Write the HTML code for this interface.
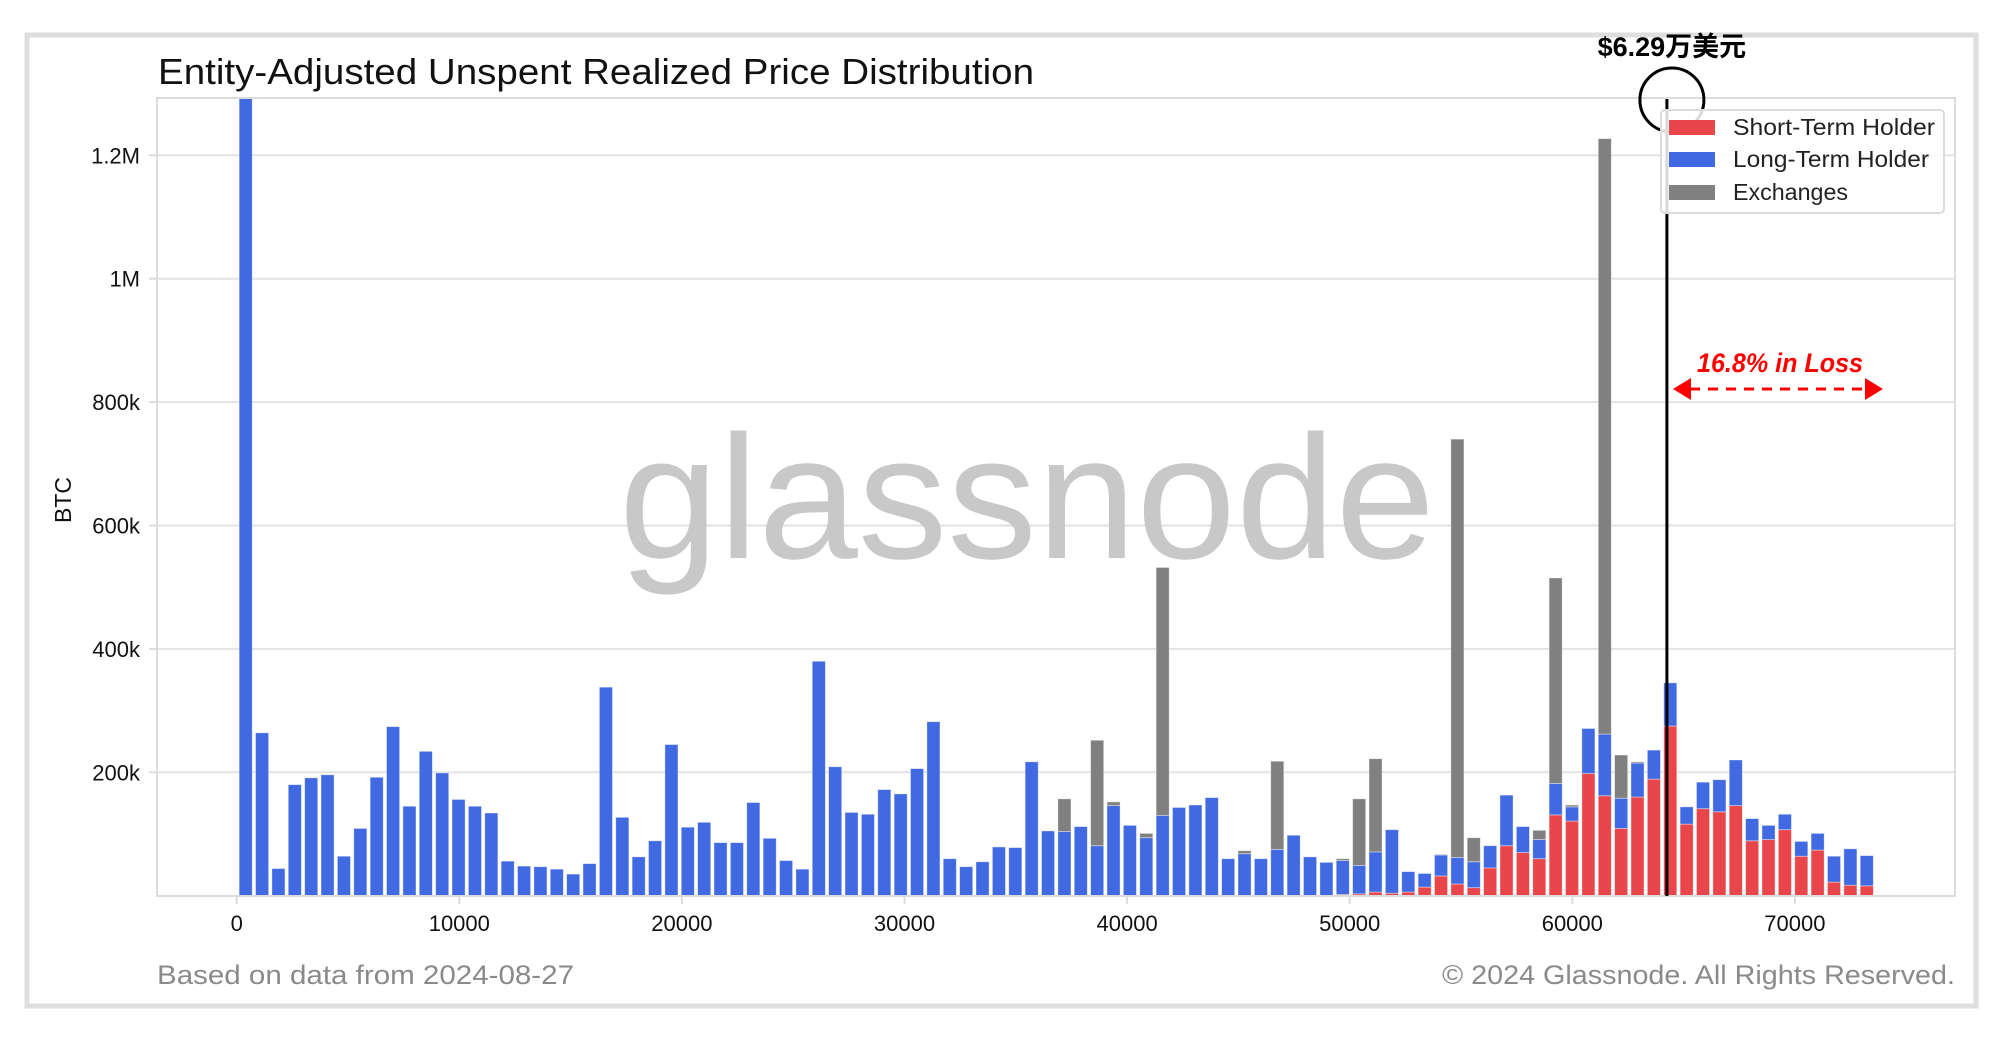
<!DOCTYPE html>
<html><head><meta charset="utf-8"><style>
html,body{margin:0;padding:0;background:#fff;}
svg{display:block;font-family:"Liberation Sans","Noto Sans CJK SC",sans-serif;}
</style></head><body>
<svg id="chart" width="2000" height="1041" viewBox="0 0 2000 1041">
<rect x="27" y="35" width="1949" height="971" fill="#fff" stroke="#dedede" stroke-width="5"/>
<text x="158" y="84" font-size="36" fill="#111" textLength="876" lengthAdjust="spacingAndGlyphs">Entity-Adjusted Unspent Realized Price Distribution</text>
<g id="grid"></g>
<text x="1027" y="558" font-size="176" fill="#c8c8c8" text-anchor="middle" textLength="816" lengthAdjust="spacingAndGlyphs">glassnode</text>
<g id="bars"></g>
<rect x="157" y="98" width="1798" height="798" fill="none" stroke="#dcdcdc" stroke-width="2"/>
<g id="axes"></g>
<text transform="translate(71,500) rotate(-90)" font-size="23" text-anchor="middle" fill="#111">BTC</text>
<line id="priceLine" y1="99" y2="896" stroke="#000" stroke-width="3"/>
<circle id="priceCircle" cy="100" r="32" fill="none" stroke="#000" stroke-width="3"/>
<text id="priceLabel" y="56" font-size="27" font-weight="bold" fill="#000" text-anchor="middle">$6.29万美元</text>
<g>
<rect x="1661" y="110" width="283" height="103" rx="4" fill="#fff" fill-opacity="0.85" stroke="#dcdcdc" stroke-width="2"/>
<rect x="1669" y="120" width="46" height="15" fill="#e8464a"/>
<text x="1733" y="135" font-size="23" fill="#222" textLength="202" lengthAdjust="spacingAndGlyphs">Short-Term Holder</text>
<rect x="1669" y="152" width="46" height="15" fill="#4169e1"/>
<text x="1733" y="167" font-size="23" fill="#222" textLength="196" lengthAdjust="spacingAndGlyphs">Long-Term Holder</text>
<rect x="1669" y="185" width="46" height="15" fill="#808080"/>
<text x="1733" y="200" font-size="23" fill="#222" textLength="115" lengthAdjust="spacingAndGlyphs">Exchanges</text>
</g>
<text x="1780" y="372" font-size="27" font-weight="bold" font-style="italic" fill="#ff0000" text-anchor="middle" textLength="166" lengthAdjust="spacingAndGlyphs">16.8% in Loss</text>
<g>
<line x1="1690" y1="389" x2="1866" y2="389" stroke="#ff0000" stroke-width="3" stroke-dasharray="10,8"/>
<polygon points="1673,389 1691,378 1691,400" fill="#ff0000"/>
<polygon points="1883,389 1865,378 1865,400" fill="#ff0000"/>
</g>
<text x="157" y="984" font-size="27" fill="#8a8a8a" textLength="417" lengthAdjust="spacingAndGlyphs">Based on data from 2024-08-27</text>
<text x="1442" y="984" font-size="27" fill="#8a8a8a" textLength="513" lengthAdjust="spacingAndGlyphs">© 2024 Glassnode. All Rights Reserved.</text>
</svg>
<script>
// values in thousands of BTC, one per price bin
const sth = [0,0,0,0,0,0,0,0,0,0, 0,0,0,0,0,0,0,0,0,0, 0,0,0,0,0,0,0,0,0,0, 0,0,0,0,0,0,0,0,0,0, 0,0,0,0,0,0,0,0,0,0, 0,0,0,0,0,0,0,0,0,0, 0,0,0,0,0,0,0,
 2,3,6,4,6,14,32,19,13,45,81,70,60,131,121,198,162,109,160,189,275,116,141,136,146,89,91,107,64,74,22,17,16];
const lth = [1350,264,44,180,191,196,64,109,192,274, 145,234,199,156,145,134,56,48,47,43, 35,52,338,127,63,89,245,111,119,86, 86,151,93,57,43,380,209,135,132,172, 165,206,282,60,47,55,79,78,217,105, 104,112,81,146,114,94,130,143,147,159, 60,68,60,75,98,63,54,
 55,46,65,103,33,22,34,43,42,36,82,42,31,51,23,73,100,49,55,47,70,28,43,52,74,36,23,25,24,27,42,59,49];
const exch = [0,0,0,0,0,0,0,0,0,0, 0,0,0,0,0,0,0,0,0,0, 0,0,0,0,0,0,0,0,0,0, 0,0,0,0,0,0,0,0,0,0, 0,0,0,0,0,0,0,0,0,0,
 53,0,171,6,0,7,402,0,0,0, 0,5,0,143,0,0,0,3,108,151, 0,0,0,1,678,39,0,0,0,15, 333,3,0,965,70,2,0,0,0,0, 0,0,0,0,0,0,0,0,0,0];
const binStart = 404, binWidth = 735.6;
const xTicks = [0,10000,20000,30000,40000,50000,60000,70000];
const yTicks = [200,400,600,800,1000,1200];
const yTickLabels = ["200k","400k","600k","800k","1M","1.2M"];
const currentPrice = 64250;

const NS = "http://www.w3.org/2000/svg";
const X0 = 236.7, XS = 0.02226, Y0 = 895.7, YS = 0.617, YTOP = 98;
const xs = v => X0 + v * XS;
const ys = v => Math.max(YTOP, Y0 - v * YS);
function mk(tag, attrs, parent){ const e = document.createElementNS(NS, tag); for (const k in attrs) e.setAttribute(k, attrs[k]); parent.appendChild(e); return e; }

const grid = document.getElementById('grid');
const axes = document.getElementById('axes');
yTicks.forEach((t, i) => {
  const y = ys(t);
  const g = mk('line', {x1:157, x2:1955, y1:y, y2:y, stroke:'#e2e2e2', 'stroke-width':2}, grid);
  
  
  const tk = mk('line', {x1:149, x2:157, y1:y, y2:y, stroke:'#dcdcdc', 'stroke-width':2}, axes);
  
  
  const lb = mk('text', {x:140, y:y + 8, 'font-size':22, 'text-anchor':'end', fill:'#111'}, axes);
  lb.textContent = yTickLabels[i];
  
  
});
xTicks.forEach(t => {
  const x = xs(t);
  const tk = mk('line', {x1:x, x2:x, y1:896, y2:904, stroke:'#dcdcdc', 'stroke-width':2}, axes);
  
  
  const lb = mk('text', {x:x, y:931, 'font-size':22, 'text-anchor':'middle', fill:'#111'}, axes);
  lb.textContent = String(t);
  
  
});

const bars = document.getElementById('bars');
const bw = binWidth * XS * 0.8;
for (let i = 0; i < lth.length; i++) {
  const cx = xs(binStart + i * binWidth);
  const s = sth[i], l = lth[i], e = exch[i];
  const segs = [[0, s, '#e8464a', 'bar-sth'], [s, s + l, '#4169e1', 'bar-lth'], [s + l, s + l + e, '#808080', 'bar-exchanges']];
  segs.forEach(sg => {
    if (sg[1] <= sg[0]) return;
    const yT = ys(sg[1]), yB = ys(sg[0]);
    const r = mk('rect', {x:cx - bw / 2, y:yT, width:bw, height:Math.max(0, yB - yT), fill:sg[2], stroke:'#ffffff', 'stroke-opacity':0.5, 'stroke-width':0.8}, bars);
    
    
  });
}
const px = xs(currentPrice);
const pl = document.getElementById('priceLine'); pl.setAttribute('x1', px); pl.setAttribute('x2', px);
document.getElementById('priceCircle').setAttribute('cx', px + 5);
document.getElementById('priceLabel').setAttribute('x', px + 5);
</script>
</body></html>
